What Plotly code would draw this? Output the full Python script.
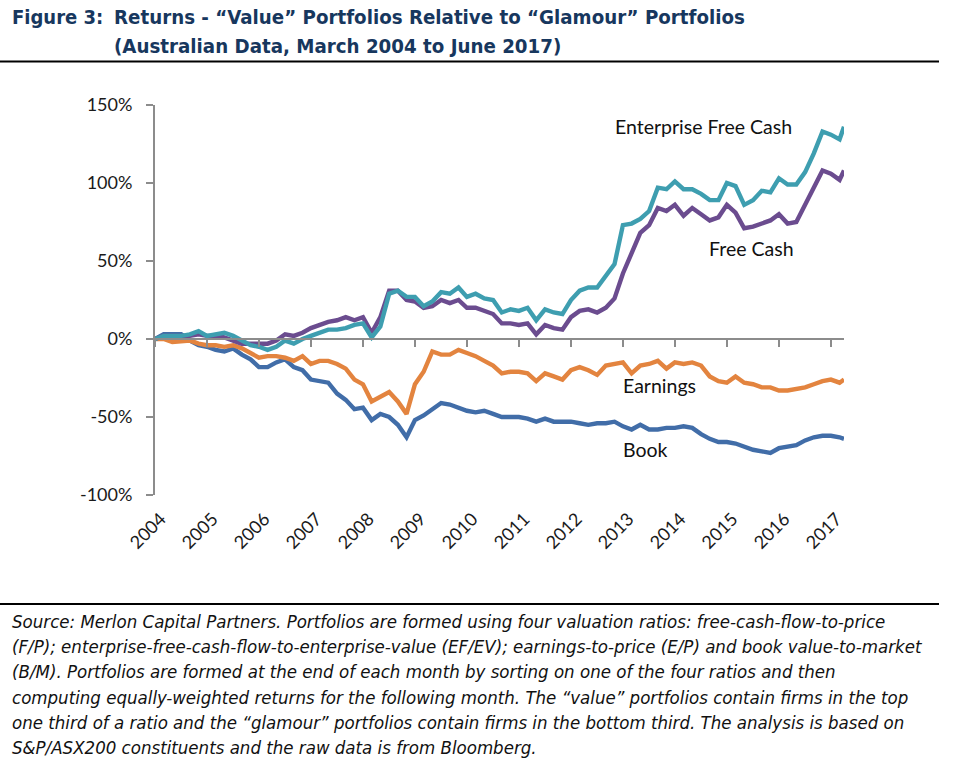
import pandas as pd
import plotly.graph_objects as go

# ---------------- data (cumulative relative return, %) ----------------
start_month = "2004-03-01"
month_offsets = list(range(0, 159, 2)) + [159]   # months since March 2004

book = [0, 3, 3, 3, -1, -4, -5, -7, -8, -6,
        -10, -13, -18, -18, -15, -13, -18, -20, -26, -27,
        -28, -35, -39, -45, -44, -52, -48, -50, -55, -63,
        -52, -49, -45, -41, -42, -44, -46, -47, -46, -48,
        -50, -50, -50, -51, -53, -51, -53, -53, -53, -54,
        -55, -54, -54, -53, -56, -58, -55, -58, -58, -57,
        -57, -56, -57, -61, -64, -66, -66, -67, -69, -71,
        -72, -73, -70, -69, -68, -65, -63, -62, -62, -63,
        -64]

earnings = [0, 0, -2, -1.5, -1, -3, -4, -4, -5, -4,
            -6, -9, -12, -11, -11, -12, -14, -11, -16, -14,
            -14, -16, -19, -26, -29, -40, -37, -34, -40, -48,
            -29, -21, -8, -10, -10, -7, -9, -11, -14, -17,
            -22, -21, -21, -22, -27, -22, -24, -26, -20, -18,
            -20, -23, -17, -16, -15, -22, -17, -16, -14, -19,
            -15, -16, -15, -17, -24, -27, -28, -24, -28, -29,
            -31, -31, -33, -33, -32, -31, -29, -27, -26, -28,
            -26]

free_cash = [0, 2, 2, 2, 2, 3, 2, 2, 1, -1,
             -3, -3, -3, -3, -1, 3, 2, 4, 7, 9,
             11, 12, 14, 12, 14, 4, 14, 31, 31, 25,
             24, 20, 21, 25, 23, 25, 20, 20, 18, 16,
             10, 10, 9, 10, 3, 9, 7, 6, 14, 18,
             19, 17, 20, 26, 42, 55, 68, 73, 84, 82,
             86, 79, 84, 80, 76, 78, 86, 81, 71, 72,
             74, 76, 80, 74, 75, 86, 97, 108, 106, 102,
             108]

enterprise_free_cash = [0, 2, 2, 2, 3, 5, 2, 3, 4, 2,
                        -1, -4, -5, -7, -5, -1, -3, 0, 2, 4,
                        6, 6, 7, 9, 10, 1, 8, 29, 31, 27,
                        27, 21, 24, 30, 29, 33, 27, 29, 26, 25,
                        17, 19, 18, 20, 12, 19, 17, 16, 25, 31,
                        33, 33, 40, 48, 73, 74, 77, 82, 97, 96,
                        101, 96, 96, 93, 89, 89, 100, 98, 86, 89,
                        95, 94, 103, 99, 99, 107, 119, 133, 131, 128,
                        136]

year_labels = [str(y) for y in range(2004, 2018)]
y_ticks = [-100, -50, 0, 50, 100, 150]
y_tick_labels = ["-100%", "-50%", "0%", "50%", "100%", "150%"]

series_names = ["Book", "Earnings", "Free Cash", "Enterprise Free Cash"]
series_colors = ["#416DA8", "#E3843F", "#6B4C8F", "#3E9EB0"]

title_line1a = "Figure 3:"
title_line1b = "Returns - \u201cValue\u201d Portfolios Relative to \u201cGlamour\u201d Portfolios"
title_line2 = "(Australian Data, March 2004 to June 2017)"

footnote_lines = [
    "Source: Merlon Capital Partners. Portfolios are formed using four valuation ratios: free-cash-flow-to-price",
    "(F/P); enterprise-free-cash-flow-to-enterprise-value (EF/EV); earnings-to-price (E/P) and book value-to-market",
    "(B/M). Portfolios are formed at the end of each month by sorting on one of the four ratios and then",
    "computing equally-weighted returns for the following month. The \u201cvalue\u201d portfolios contain firms in the top",
    "one third of a ratio and the \u201cglamour\u201d portfolios contain firms in the bottom third. The analysis is based on",
    "S&P/ASX200 constituents and the raw data is from Bloomberg.",
]

# ---------------- build ----------------
base = pd.Timestamp(start_month)
dates = [base + pd.DateOffset(months=m) for m in month_offsets]
year_ticks = [base + pd.DateOffset(months=12 * k) for k in range(len(year_labels))]
label_ticks = [t + pd.DateOffset(days=40) for t in year_ticks]
x_range = [dates[0], dates[-1]]

CHART_FONT = "Lato, 'Open Sans', sans-serif"
NARROW = "'DejaVu Sans Condensed', 'DejaVu Sans', sans-serif"

fig = go.Figure()
for name, vals, col in zip(series_names, [book, earnings, free_cash, enterprise_free_cash], series_colors):
    fig.add_trace(go.Scatter(x=dates, y=vals, mode="lines", name=name,
                             line=dict(color=col, width=4.4), showlegend=False,
                             hoverinfo="skip"))

# invisible trace to activate the zero-line axis with ticks
fig.add_trace(go.Scatter(x=[dates[0]], y=[None], xaxis="x2", yaxis="y",
                         mode="lines", showlegend=False, hoverinfo="skip"))

# plot area pixel geometry
L, R, T, B = 155, 844, 105, 495
W, H = 969, 761
def px(x):
    return (x - L) / (R - L)
def py(y):
    return (B - y) / (B - T)

fig.update_layout(
    width=W, height=H,
    margin=dict(l=L, r=W - R, t=T, b=H - B),
    paper_bgcolor="white", plot_bgcolor="white",
    font=dict(family=CHART_FONT, size=18, color="#1a1a1a"),
    xaxis=dict(type="date", range=x_range, showgrid=False, zeroline=False,
               showline=False, ticks="", tickmode="array",
               tickvals=label_ticks, ticktext=year_labels, tickangle=-45,
               ticklabelstandoff=9, tickfont=dict(family=CHART_FONT, size=18, color="#1a1a1a")),
    xaxis2=dict(type="date", range=x_range, overlaying="x", anchor="free",
                position=py(339), showgrid=False, zeroline=False,
                showline=True, linecolor="#8C8C8C", linewidth=2,
                ticks="outside", ticklen=7, tickwidth=2, tickcolor="#8C8C8C",
                tickmode="array", tickvals=year_ticks, showticklabels=False),
    yaxis=dict(range=[-100, 150], showgrid=False, zeroline=False,
               showline=True, linecolor="#8C8C8C", linewidth=2,
               ticks="outside", ticklen=7, tickwidth=2, tickcolor="#8C8C8C",
               tickmode="array", tickvals=y_ticks, ticktext=y_tick_labels,
               ticklabelstandoff=10,
               tickfont=dict(family=CHART_FONT, size=18, color="#1a1a1a")),
)

ann = []
# series labels
for text, cx, cy in [("Enterprise Free Cash", 703, 126), ("Free Cash", 751, 248),
                     ("Earnings", 659, 385), ("Book", 645, 449)]:
    ann.append(dict(text=text, xref="paper", yref="paper", x=px(cx), y=py(cy),
                    xanchor="center", yanchor="middle", showarrow=False,
                    font=dict(family=CHART_FONT, size=19.5, color="#111111")))

TITLE_COL = "#17375E"
ann.append(dict(text="<b>%s</b>" % title_line1a, xref="paper", yref="paper",
                x=px(10), y=py(17), xanchor="left", yanchor="middle", showarrow=False,
                font=dict(family=NARROW, size=20, color=TITLE_COL)))
ann.append(dict(text="<b>%s</b>" % title_line1b, xref="paper", yref="paper",
                x=px(112), y=py(17), xanchor="left", yanchor="middle", showarrow=False,
                font=dict(family=NARROW, size=20.3, color=TITLE_COL)))
ann.append(dict(text="<b>%s</b>" % title_line2, xref="paper", yref="paper",
                x=px(112), y=py(46), xanchor="left", yanchor="middle", showarrow=False,
                font=dict(family=NARROW, size=20.3, color=TITLE_COL)))

foot_y = [621, 646, 671, 697, 722, 747]
for line, yy in zip(footnote_lines, foot_y):
    ann.append(dict(text="<i>%s</i>" % line, xref="paper", yref="paper",
                    x=px(10), y=py(yy), xanchor="left", yanchor="middle", showarrow=False,
                    font=dict(family=NARROW, size=18.5, color="#111111")))
fig.update_layout(annotations=ann)

fig.add_shape(type="line", xref="paper", yref="paper", x0=px(0), x1=px(939),
              y0=py(61.5), y1=py(61.5), line=dict(color="black", width=2))
fig.add_shape(type="line", xref="paper", yref="paper", x0=px(0), x1=px(939),
              y0=py(604), y1=py(604), line=dict(color="black", width=2))

fig.write_html("out.html")
